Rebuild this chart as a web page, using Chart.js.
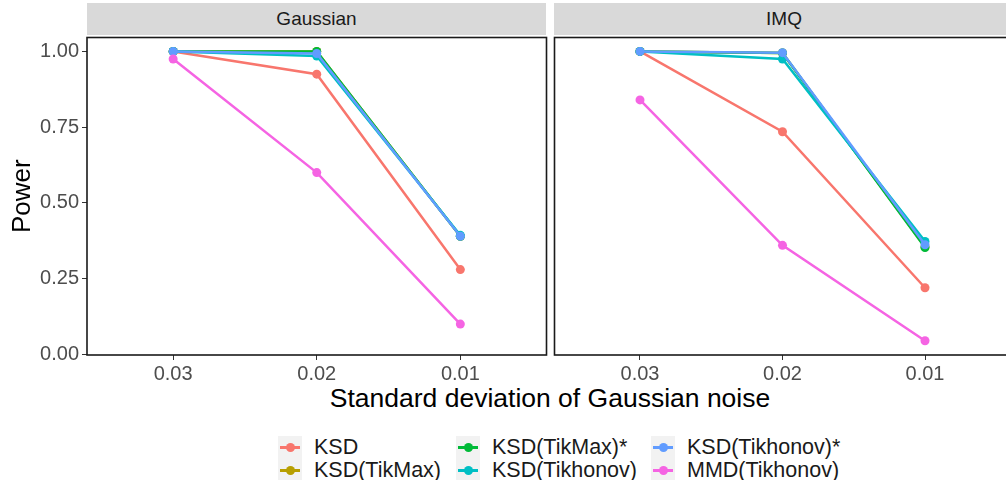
<!DOCTYPE html>
<html>
<head>
<meta charset="utf-8">
<script src="https://cdn.jsdelivr.net/npm/chart.js@4/dist/chart.umd.min.js"></script>
<style>
  html, body { margin: 0; padding: 0; background: #fff; overflow: hidden; }
  body { width: 1006px; height: 480px; position: relative; font-family: "Liberation Sans", Arial, sans-serif; }
  .strip { position: absolute; top: 3px; height: 32px; background: #d9d9d9; color: #1a1a1a;
           font-size: 19px; line-height: 32px; text-align: center; }
  .box { position: absolute; }
  #xtitle { position: absolute; left: 0; width: 1100px; top: 382px; text-align: center; font-size: 26.5px; line-height: 32px; color: #000; }
  .leg { position: absolute; font-size: 21.5px; color: #1a1a1a; }
  .key { position: absolute; width: 24px; height: 23px; background: #f2f2f2; }
  .key .ln { position: absolute; left: 2px; right: 2px; top: 10px; height: 2.5px; }
  .key .pt { position: absolute; left: 7.5px; top: 7px; width: 9px; height: 9px; border-radius: 50%; }
  .lab { position: absolute; white-space: nowrap; line-height: 23px; }
</style>
</head>
<body>
<div class="strip" style="left:87px;width:459px">Gaussian</div>
<div class="strip" style="left:554px;width:460px">IMQ</div>
<div class="box" style="left:0;top:33px;width:551px;height:349px"><canvas id="left"></canvas></div>
<div class="box" style="left:550px;top:33px;width:465px;height:349px"><canvas id="right"></canvas></div>
<div id="xtitle">Standard deviation of Gaussian noise</div>
<div id="legend"></div>
<script>
// --- Data ---
const NOISE = ['0.03', '0.02', '0.01'];
const Y_TICKS = [0, 0.25, 0.5, 0.75, 1];
const SERIES = ['KSD', 'KSD(TikMax)', 'KSD(TikMax)*', 'KSD(Tikhonov)', 'KSD(Tikhonov)*', 'MMD(Tikhonov)'];
const COLORS = ['#F8766D', '#B79F00', '#00BA38', '#00BFC4', '#619CFF', '#F564E3'];

// Gaussian kernel
const gaussKSD = [1.0, 0.925, 0.28];
const gaussTikMax = [1.0, 1.0, 0.39];
const gaussTikMaxStar = [1.0, 1.0, 0.39];
const gaussTikhonov = [1.0, 0.985, 0.393];
const gaussTikhonovStar = [1.0, 0.993, 0.39];
const gaussMMD = [0.975, 0.60, 0.10];

// IMQ kernel
const imqKSD = [1.0, 0.735, 0.22];
const imqTikMax = [1.0, 0.995, 0.355];
const imqTikMaxStar = [1.0, 0.995, 0.353];
const imqTikhonov = [1.0, 0.975, 0.373];
const imqTikhonovStar = [1.0, 0.996, 0.362];
const imqMMD = [0.84, 0.36, 0.045];

const gaussData = [gaussKSD, gaussTikMax, gaussTikMaxStar, gaussTikhonov, gaussTikhonovStar, gaussMMD];
const imqData = [imqKSD, imqTikMax, imqTikMaxStar, imqTikhonov, imqTikhonovStar, imqMMD];

// --- Helpers ---
function makeDatasets(rows) {
  return rows.map((vals, i) => ({
    label: SERIES[i],
    data: vals.map((v, j) => ({ x: j, y: v })),
    borderColor: COLORS[i],
    backgroundColor: COLORS[i],
    borderWidth: 2.5,
    pointRadius: 4.5,
    pointBorderWidth: 0,
    pointHoverRadius: 4.5,
    // ggplot draws later groups on top
    order: SERIES.length - i,
  }));
}

const panelBorder = {
  id: 'panelBorder',
  afterDraw(chart) {
    const { ctx, chartArea: a } = chart;
    ctx.save();
    ctx.strokeStyle = '#1a1a1a';
    ctx.lineWidth = 1.6;
    ctx.strokeRect(a.left, a.top, a.right - a.left, a.bottom - a.top);
    ctx.restore();
  },
};

function makeChart(id, rows, showY) {
  return new Chart(document.getElementById(id), {
    type: 'line',
    data: { datasets: makeDatasets(rows) },
    plugins: [panelBorder],
    options: {
      responsive: true,
      maintainAspectRatio: false,
      animation: false,
      layout: { padding: 0 },
      plugins: { legend: { display: false }, tooltip: { enabled: false } },
      scales: {
        x: {
          type: 'linear',
          min: -0.6,
          max: 2.6,
          afterBuildTicks: (s) => { s.ticks = NOISE.map((_, i) => ({ value: i })); },
          afterFit: (s) => { s.height = 27; s.paddingLeft = 0; s.paddingRight = 0; },
          grid: { display: true, drawOnChartArea: false, drawTicks: true, tickLength: 5, color: '#333' },
          border: { display: false },
          ticks: {
            color: '#4d4d4d',
            font: { size: 20, family: 'Liberation Sans' },
            padding: 2,
            maxRotation: 0,
            callback: (v) => NOISE[v],
          },
        },
        y: {
          display: showY,
          min: -0.002,
          max: 1.046,
          afterBuildTicks: (s) => { s.ticks = Y_TICKS.map((v) => ({ value: v })); },
          afterFit: (s) => { s.width = showY ? 87 : 0; s.paddingTop = 0; s.paddingBottom = 0; },
          grid: { display: true, drawOnChartArea: false, drawTicks: true, tickLength: 5, color: '#333' },
          border: { display: false },
          title: {
            display: showY,
            text: 'Power',
            color: '#000',
            font: { size: 26, family: 'Liberation Sans' },
            padding: { top: 7, bottom: 0 },
          },
          ticks: {
            color: '#4d4d4d',
            font: { size: 20, family: 'Liberation Sans' },
            padding: 3,
            callback: (v) => v.toFixed(2),
          },
        },
      },
    },
  });
}

makeChart('left', gaussData, true);
makeChart('right', imqData, false);

// --- Legend (3 columns, filled by column like ggplot) ---
const legend = document.getElementById('legend');
const COL_X = [278, 456, 651];
const ROW_Y = [436, 459];
SERIES.forEach((name, i) => {
  const col = Math.floor(i / 2);
  const row = i % 2;
  const key = document.createElement('div');
  key.className = 'key';
  key.style.left = COL_X[col] + 'px';
  key.style.top = ROW_Y[row] + 'px';
  key.innerHTML = `<div class="ln" style="background:${COLORS[i]}"></div><div class="pt" style="background:${COLORS[i]}"></div>`;
  legend.appendChild(key);
  const lab = document.createElement('div');
  lab.className = 'leg lab';
  lab.style.left = COL_X[col] + 36 + 'px';
  lab.style.top = ROW_Y[row] + 'px';
  lab.textContent = name;
  legend.appendChild(lab);
});
</script>
</body>
</html>
